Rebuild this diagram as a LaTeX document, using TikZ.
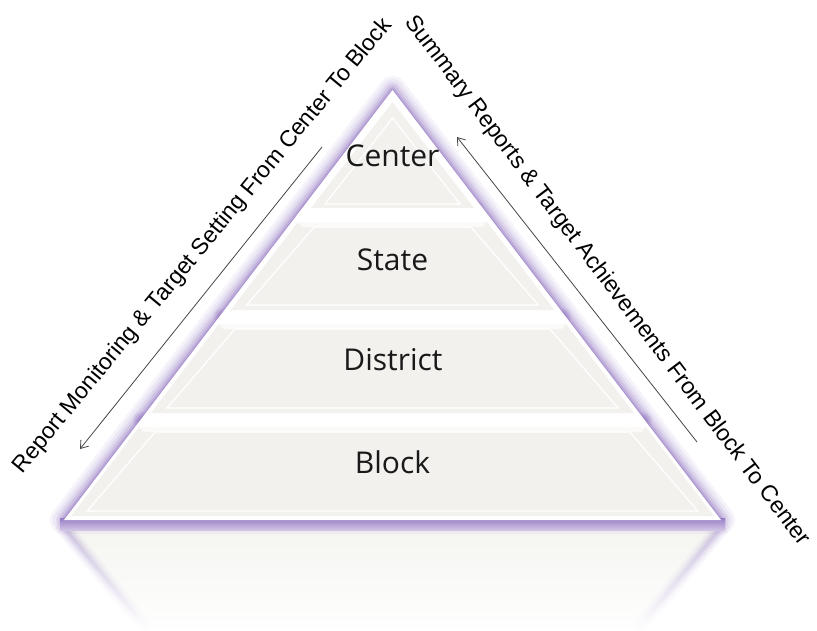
\documentclass[tikz,border=0pt]{standalone}
\usepackage{fontspec}
\setmainfont{Liberation Sans}
\newfontfamily\lvlfont{Open Sans}
\usetikzlibrary{arrows.meta,fadings}
\definecolor{glow}{RGB}{140,110,190}
\definecolor{face}{RGB}{242,241,237}
\definecolor{txt}{RGB}{25,25,25}
\definecolor{arrc}{RGB}{70,70,70}
\newcommand\xl[1]{392.5-0.765*(#1-92)}
\newcommand\xr[1]{392.5+0.765*(#1-92)}
\newcommand\lvband[3]{%
  \fill[face] ({\xl{#1}+#3},#1) -- ({\xr{#1}-#3},#1) -- ({\xr{#2}-#3},#2) -- ({\xl{#2}+#3},#2) -- cycle;
  \fill[white,opacity=0.7] ({\xl{#1}+#3},#1) -- ({\xr{#1}-#3},#1) -- ({\xr{#1}-#3-4},#1+5) -- ({\xl{#1}+#3+4},#1+5) -- cycle;
  \draw[white,line width=1.2pt] ({\xl{#1}+#3+16},#1+5) -- ({\xl{#2}+#3+16},#2-5) -- ({\xr{#2}-#3-16},#2-5) -- ({\xr{#1}-#3-16},#1+5) -- cycle;
}
\newcommand\gspot[2]{%
  \foreach \r/\o in {8/0.12,6/0.15,4/0.2}{\fill[glow,opacity=\o] (#1,#2) circle (\r pt);}
}
\tikzset{
  lvl/.style={font=\lvlfont\fontsize{30}{32}\selectfont, text=txt, inner sep=0pt},
  side/.style={font=\fontsize{23}{25}\selectfont, text=black, inner sep=0pt},
  arr/.style={draw=arrc, line width=0.8pt, -{Straight Barb[length=7pt,width=10pt]}}
}
\begin{document}
\begin{tikzpicture}[x=1pt,y=-1pt]
\useasboundingbox (0,0) rectangle (817,630);
\fill[white] (0,0) rectangle (817,630);
\coordinate (apex) at (392.5,90);
\coordinate (bl) at (64,520);
\coordinate (br) at (721,520);
% reflection
\fill[face!75!white] (65,528) -- (720,528) -- (639,628) -- (146,628) -- cycle;
\foreach \w/\o in {16/0.07,11/0.1,7/0.13,3/0.16}{
  \draw[glow, line width=\w pt, opacity=\o, line cap=round] (64,528) -- (146,628);
  \draw[glow, line width=\w pt, opacity=\o, line cap=round] (721,528) -- (639,628);
}
\fill[white, path fading=north] (0,527) rectangle (817,631);
% glow
\foreach \w/\o in {28/0.07,22/0.09,16/0.13,11/0.18,6/0.28,2/0.4}{
  \draw[glow, line width=\w pt, opacity=\o, line join=round] (apex) -- (bl) -- (br) -- cycle;
}
\gspot{309}{209}
\gspot{476}{209}
\gspot{222}{316}
\gspot{563}{316}
\gspot{141}{420}
\gspot{644}{420}
\shade[top color=glow!90, bottom color=glow!40] (60,518) rectangle (725,530);
\fill[white] (apex) -- (bl) -- (br) -- cycle;
% bands
\fill[face] (392.5,102) -- (474,208) -- (311,208) -- cycle;
\draw[white,line width=1.2pt] (392.5,118) -- (460,204) -- (325,204) -- cycle;
\lvband{222}{310}{5}
\lvband{324}{413}{4}
\lvband{427}{516}{3}
% labels
\node[lvl] (center) at (392.5,156) {Center};
\node[lvl] (state) at (392.5,260) {State};
\node[lvl] (district) at (393,360) {District};
\node[lvl] (block) at (392.5,462) {Block};
\node[side, rotate=50.5] (lefttxt) at (203,246) {Report Monitoring \& Target Setting From Center To Block};
\node[side, rotate=-53] (righttxt) at (607,281) {Summary Reports \& Target Achievements From Block To Center};
% arrows
\coordinate (la1) at (322,147);
\coordinate (la2) at (80,449);
\coordinate (ra1) at (697,442);
\coordinate (ra2) at (457,137);
\draw[arr] (la1) -- (la2);
\draw[arr] (ra1) -- (ra2);
\end{tikzpicture}
\end{document}
